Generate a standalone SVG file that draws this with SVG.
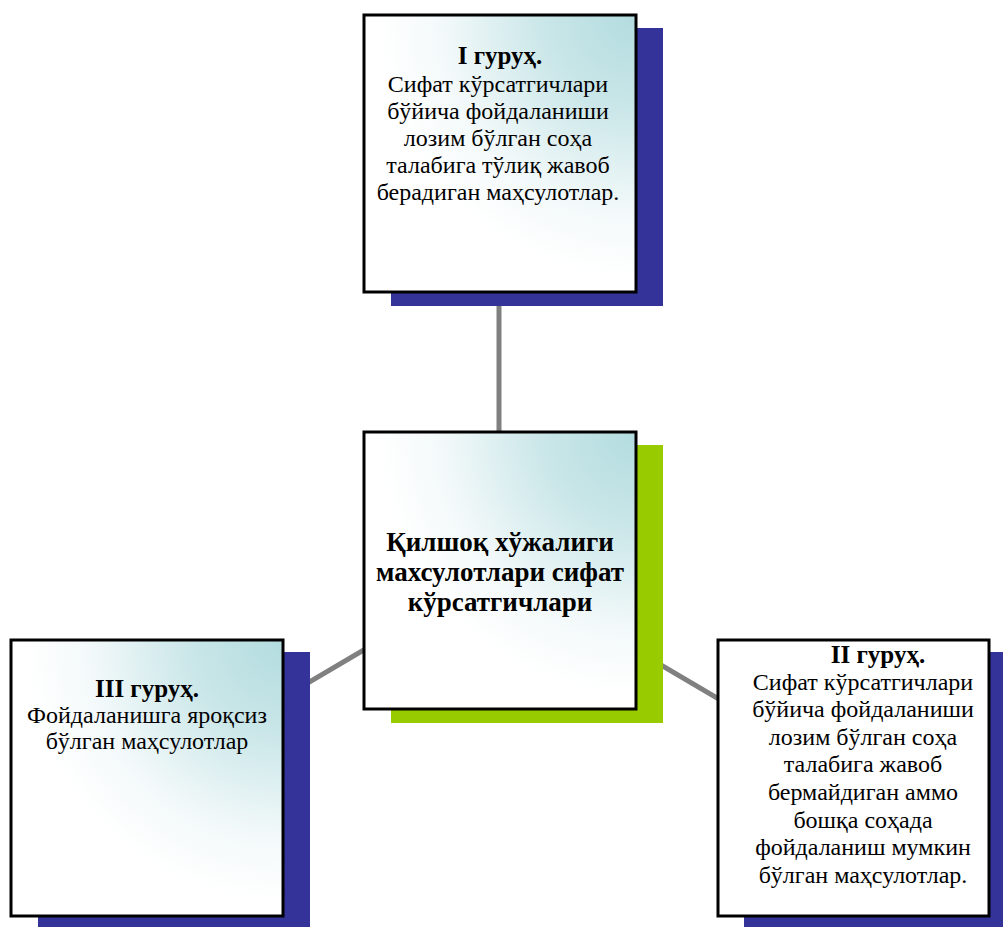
<svg xmlns="http://www.w3.org/2000/svg" width="1003" height="927" viewBox="0 0 1003 927">
<defs>
<radialGradient id="g" cx="1" cy="0" r="0.95" fx="1" fy="0">
<stop offset="0" stop-color="#b3dcdf"/>
<stop offset="0.35" stop-color="#c9e6e8"/>
<stop offset="0.75" stop-color="#f3f9fa"/>
<stop offset="1" stop-color="#ffffff"/>
</radialGradient>
<style>
.box{fill:url(#g);stroke:#000;stroke-width:3}
.plain{fill:#fff;stroke:#000;stroke-width:3}
.sh{fill:#333399}
.shg{fill:#99cc00}
.t{font-family:"Liberation Serif","Times New Roman",serif;font-size:24px;fill:#000;text-anchor:middle}
.b{font-weight:bold;font-size:25px}
.c{font-family:"Liberation Serif","Times New Roman",serif;font-size:27px;font-weight:bold;fill:#000;text-anchor:middle}
.ln{stroke:#808080;stroke-width:5;fill:none}
</style>
</defs>
<rect width="1003" height="927" fill="#fff"/>
<g id="connectors">
<line class="ln" x1="499" y1="300" x2="499" y2="440"/>
<line class="ln" x1="499.5" y1="570" x2="146.5" y2="778"/>
<line class="ln" x1="499.5" y1="570" x2="853" y2="778"/>
</g>
<g id="node-top">
<rect class="sh" x="391" y="28" width="272" height="278"/>
<rect class="box" x="364" y="15" width="272" height="277"/>
<text class="t"><tspan class="b" x="500" y="64">I гуруҳ.</tspan><tspan x="498" y="92">Сифат кўрсатгичлари</tspan><tspan x="498" y="119">бўйича фойдаланиши</tspan><tspan x="498" y="146">лозим бўлган соҳа</tspan><tspan x="498" y="173">талабига тўлиқ жавоб</tspan><tspan x="498" y="200">берадиган маҳсулотлар.</tspan></text>
</g>
<g id="node-center">
<rect class="shg" x="391" y="445" width="272" height="278"/>
<rect class="box" x="364" y="432" width="272" height="277"/>
<text class="c"><tspan x="500" y="551">Қилшоқ хўжалиги</tspan><tspan x="500" y="581">махсулотлари сифат</tspan><tspan x="500" y="611">кўрсатгичлари</tspan></text>
</g>
<g id="node-left">
<rect class="sh" x="38" y="652" width="272" height="278"/>
<rect class="box" x="11" y="640" width="272" height="276"/>
<text class="t"><tspan class="b" x="147" y="697">III гуруҳ.</tspan><tspan x="147" y="723">Фойдаланишга яроқсиз</tspan><tspan x="147" y="749">бўлган маҳсулотлар</tspan></text>
</g>
<g id="node-right">
<rect class="sh" x="744" y="652" width="262" height="278"/>
<rect class="plain" x="718" y="640" width="271" height="276"/>
<text class="t"><tspan class="b" x="878" y="663">II гуруҳ.</tspan><tspan x="863" y="690">Сифат кўрсатгичлари</tspan><tspan x="863" y="717">бўйича фойдаланиши</tspan><tspan x="863" y="745">лозим бўлган соҳа</tspan><tspan x="863" y="772">талабига жавоб</tspan><tspan x="863" y="800">бермайдиган аммо</tspan><tspan x="863" y="828">бошқа соҳада</tspan><tspan x="863" y="855">фойдаланиш мумкин</tspan><tspan x="863" y="883">бўлган маҳсулотлар.</tspan></text>
</g>
</svg>
